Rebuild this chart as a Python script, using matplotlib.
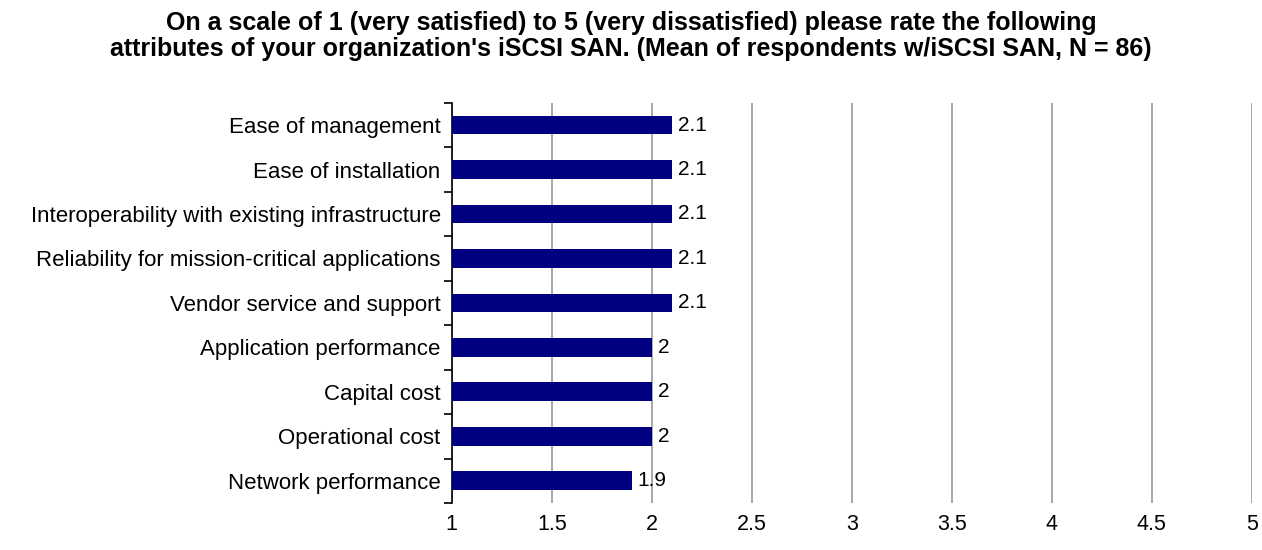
import matplotlib.pyplot as plt
import numpy as np

categories = [
    'Ease of management',
    'Ease of installation',
    'Interoperability with existing infrastructure',
    'Reliability for mission-critical applications',
    'Vendor service and support',
    'Application performance',
    'Capital cost',
    'Operational cost',
    'Network performance',
]
means = [2.1, 2.1, 2.1, 2.1, 2.1, 2.0, 2.0, 2.0, 1.9]
xticks = [1, 1.5, 2, 2.5, 3, 3.5, 4, 4.5, 5]
xtick_labels = ['1', '1.5', '2', '2.5', '3', '3.5', '4', '4.5', '5']


def main():
    plt.rcParams['font.family'] = ['Liberation Sans', 'DejaVu Sans']
    fig = plt.figure(figsize=(12.62, 5.5), dpi=100)
    ax = fig.add_axes([0.358, 0.0855, 0.634, 0.7275])

    y = np.arange(len(categories))
    left = 1
    ax.barh(y, [m - left for m in means], left=left, height=0.42, color='#000080', zorder=3)
    for yi, m in zip(y, means):
        ax.text(m + 0.03, yi, f'{m:g}', va='center', ha='left', fontsize=15, zorder=4)

    ax.set_xlim(1, 5)
    ax.set_ylim(len(categories) - 0.5, -0.5)
    ax.set_xticks(xticks)
    ax.set_xticklabels(xtick_labels, fontsize=15.5)
    ax.tick_params(axis='x', length=0, pad=8)
    ax.xaxis.grid(True, color='#a0a0a0', linewidth=1.3, zorder=0)

    # category labels centred on bars, tick marks on the category boundaries
    ax.set_yticks(y)
    ax.set_yticklabels(categories, fontsize=16)
    ax.set_yticks(np.arange(-0.5, len(categories), 1), minor=True)
    ax.tick_params(axis='y', which='major', length=0, pad=8)
    ax.tick_params(axis='y', which='minor', length=6, width=1.2, color='black')

    for side in ['top', 'right', 'bottom']:
        ax.spines[side].set_visible(False)
    ax.spines['left'].set_linewidth(1.2)

    fig.suptitle("On a scale of 1 (very satisfied) to 5 (very dissatisfied) please rate the following\n"
                 "attributes of your organization's iSCSI SAN. (Mean of respondents w/iSCSI SAN, N = 86)",
                 x=0.5, y=0.98, fontsize=18, fontweight='bold', linespacing=1.12)

    fig.savefig('out.png')


if __name__ == '__main__':
    main()
